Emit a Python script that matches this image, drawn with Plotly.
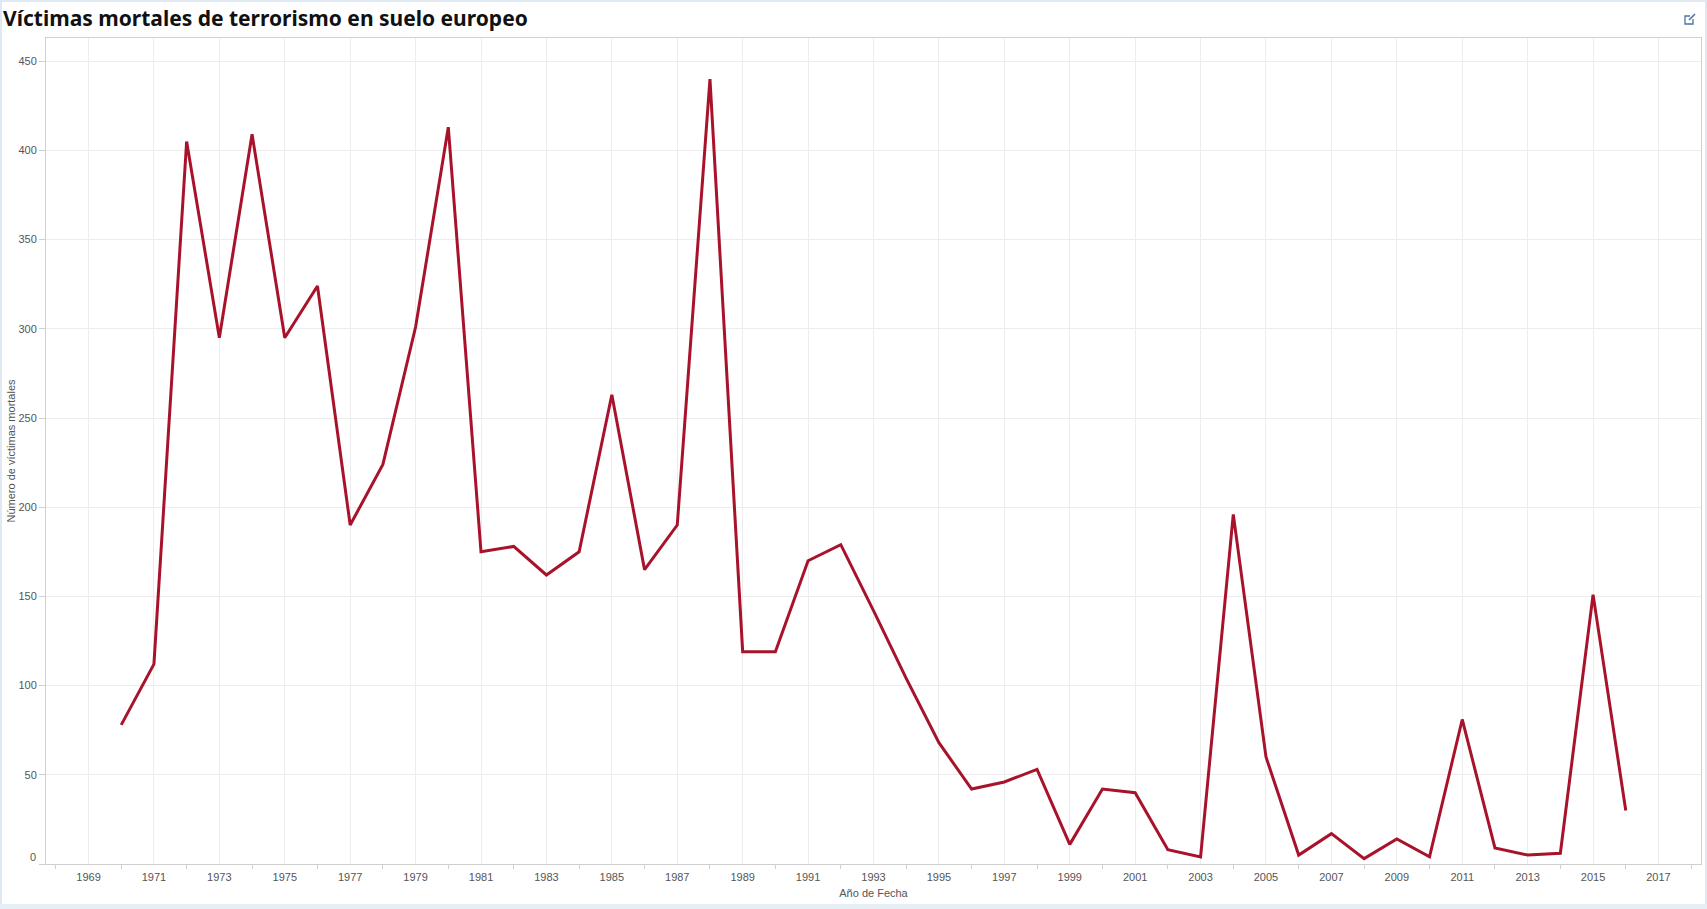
import plotly.graph_objects as go

years = list(range(1970, 2017))
deaths = [78, 112, 405, 295, 409, 295, 324, 190, 224, 301,
          413, 175, 178, 162, 175, 263, 165, 190, 440, 119,
          119, 170, 179, 142, 104, 68, 42, 46, 53, 11,
          42, 40, 8, 4, 196, 60, 5, 17, 3, 14,
          4, 81, 9, 5, 6, 151, 30]

x_tickvals = list(range(1969, 2018, 2))
x_ticktext = [str(v) for v in x_tickvals]
y_tickvals = [0, 50, 100, 150, 200, 250, 300, 350, 400, 450]
y_ticktext = ["" if v == 0 else str(v) for v in y_tickvals]

W, H = 1707, 909
L, R, T, B = 46, 6, 38, 45
pw, ph = W - L - R, H - T - B

def px(x):
    return (x - L) / pw

def py(y):
    return 1 - (y - T) / ph

fig = go.Figure()
fig.add_trace(go.Scatter(
    x=years, y=deaths, mode="lines",
    line=dict(color="#a8132b", width=3),
    hovertemplate="%{x}: %{y}<extra></extra>",
))

axis_font = dict(family="Liberation Sans, Arial, sans-serif", size=11, color="#555555")

shapes = [
    # outer light-blue frame
    dict(type="rect", xref="paper", yref="paper", x0=px(0), x1=px(W), y0=py(H), y1=py(0),
         line=dict(color="#dfe9f3", width=4), fillcolor="rgba(0,0,0,0)", layer="below"),
    dict(type="rect", xref="paper", yref="paper", x0=px(0), x1=px(W), y0=py(H), y1=py(904),
         line=dict(width=0), fillcolor="#e6eef6", layer="below"),
    # external-link icon
    dict(type="path", xref="paper", yref="paper",
         path=f"M {px(1690)} {py(16)} L {px(1685)} {py(16)} L {px(1685)} {py(24)} L {px(1693)} {py(24)} L {px(1693)} {py(19)}",
         line=dict(color="#4a72a8", width=1.3)),
    dict(type="line", xref="paper", yref="paper", x0=px(1689), y0=py(20), x1=px(1695), y1=py(14),
         line=dict(color="#4a72a8", width=1.6)),
]

annotations = [
    # bottom y tick label, lifted above the axis line as in the original
    dict(text=str(y_tickvals[0]), xref="paper", yref="paper", x=px(38), y=py(857),
         xanchor="right", yanchor="middle", showarrow=False, font=axis_font),
]

fig.update_layout(
    width=W, height=H,
    margin=dict(l=L, r=R, t=T, b=B),
    paper_bgcolor="white", plot_bgcolor="white",
    showlegend=False,
    title=dict(text="<b>Víctimas mortales de terrorismo en suelo europeo</b>",
               x=3 / W, xref="container", xanchor="left", y=1 - 19 / H, yref="container",
               yanchor="middle",
               font=dict(family="Noto Sans, Open Sans, sans-serif", size=21, color="#111111")),
    xaxis=dict(
        range=[1967.7, 2018.3],
        tickmode="array", tickvals=x_tickvals, ticktext=x_ticktext,
        showgrid=True, gridcolor="#ececec", gridwidth=1,
        showline=True, linecolor="#d0d0d0", linewidth=1, mirror=True,
        ticks="", tickfont=axis_font, ticklabelstandoff=3,
        minor=dict(tick0=1968, dtick=2, ticks="outside", ticklen=4, tickcolor="#d0d0d0", showgrid=False),
        title=dict(text="Año de Fecha", font=axis_font, standoff=7),
        zeroline=False,
    ),
    yaxis=dict(
        range=[0, 463],
        tickmode="array", tickvals=y_tickvals, ticktext=y_ticktext,
        showgrid=True, gridcolor="#ececec", gridwidth=1,
        showline=True, linecolor="#d0d0d0", linewidth=1, mirror=True,
        ticks="outside", ticklen=6, tickcolor="#d0d0d0", tickfont=axis_font,
        title=dict(text="Número de víctimas mortales", font=axis_font, standoff=0),
        zeroline=False,
    ),
    shapes=shapes,
    annotations=annotations,
)

fig.write_html("out.html")
